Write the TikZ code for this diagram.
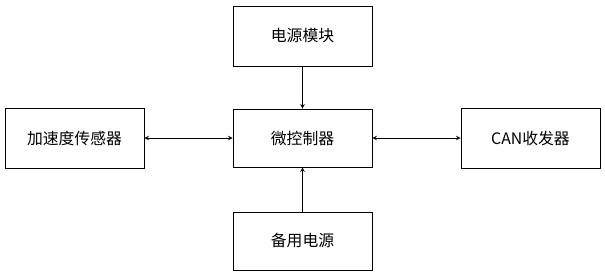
\documentclass[tikz,border=0pt]{standalone}
\usepackage{fontspec}
\setmainfont{Noto Sans CJK SC}
\usepackage{tikz}
\usetikzlibrary{shapes,arrows,positioning,calc}

\begin{document}
\begin{tikzpicture}[
    x=0.03cm, y=-0.03cm,
    block/.style={rectangle, draw, line width=0.8pt, minimum width=4.17cm, minimum height=1.8cm, align=center, font=\fontsize{13.5}{16}\selectfont},
    arrow/.style={->, >=stealth, line width=0.7pt},
    biarrow/.style={<->, >=stealth, line width=0.7pt}
]
\useasboundingbox (0,0) rectangle (605,275);

% Blocks
\node[block] (power) at (302.5, 36) {电源模块};
\node[block, minimum height=1.74cm] (mcu) at (302.5, 138) {微控制器};
\node[block] (accel) at (74.5, 138) {加速度传感器};
\node[block] (can) at (530.5, 138) {CAN收发器};
\node[block, minimum height=1.74cm] (backup) at (302.5, 241) {备用电源};

% Connections
\draw[arrow] (power) -- (mcu);
\draw[arrow] (backup) -- (mcu);
\draw[biarrow] (accel) -- (mcu);
\draw[biarrow] (mcu) -- (can);

\end{tikzpicture}
\end{document}
